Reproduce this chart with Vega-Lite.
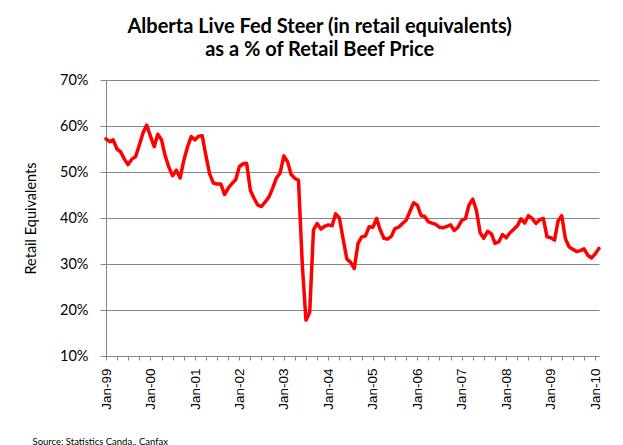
{
  "$schema": "https://vega.github.io/schema/vega-lite/v6.json",
  "autosize": "none",
  "width": 493,
  "height": 276,
  "padding": {"left": 106, "top": 80, "right": 24, "bottom": 89},
  "background": "white",
  "title": {
    "text": ["Alberta Live Fed Steer (in retail equivalents)", "as a % of Retail Beef Price"],
    "font": "Lato",
    "fontSize": 20,
    "fontWeight": "bold",
    "color": "#000000",
    "anchor": "middle",
    "frame": "bounds",
    "lineHeight": 23,
    "offset": 12,
    "dx": 7
  },
  "data": {
    "values": [
      {"date": "1999-01-01", "pct": 57.2}, {"date": "1999-02-01", "pct": 56.6}, {"date": "1999-03-01", "pct": 57.0},
      {"date": "1999-04-01", "pct": 55.0}, {"date": "1999-05-01", "pct": 54.4}, {"date": "1999-06-01", "pct": 52.8},
      {"date": "1999-07-01", "pct": 51.6}, {"date": "1999-08-01", "pct": 52.8}, {"date": "1999-09-01", "pct": 53.3},
      {"date": "1999-10-01", "pct": 55.8}, {"date": "1999-11-01", "pct": 58.5}, {"date": "1999-12-01", "pct": 60.2},
      {"date": "2000-01-01", "pct": 57.8}, {"date": "2000-02-01", "pct": 55.5}, {"date": "2000-03-01", "pct": 58.2},
      {"date": "2000-04-01", "pct": 57.0}, {"date": "2000-05-01", "pct": 53.5}, {"date": "2000-06-01", "pct": 51.0},
      {"date": "2000-07-01", "pct": 49.2}, {"date": "2000-08-01", "pct": 50.4}, {"date": "2000-09-01", "pct": 48.7},
      {"date": "2000-10-01", "pct": 52.5}, {"date": "2000-11-01", "pct": 55.5}, {"date": "2000-12-01", "pct": 57.7},
      {"date": "2001-01-01", "pct": 57.0}, {"date": "2001-02-01", "pct": 57.8}, {"date": "2001-03-01", "pct": 57.9},
      {"date": "2001-04-01", "pct": 53.5}, {"date": "2001-05-01", "pct": 49.6}, {"date": "2001-06-01", "pct": 47.6},
      {"date": "2001-07-01", "pct": 47.4}, {"date": "2001-08-01", "pct": 47.4}, {"date": "2001-09-01", "pct": 45.1},
      {"date": "2001-10-01", "pct": 46.5}, {"date": "2001-11-01", "pct": 47.5}, {"date": "2001-12-01", "pct": 48.3},
      {"date": "2002-01-01", "pct": 51.2}, {"date": "2002-02-01", "pct": 51.8}, {"date": "2002-03-01", "pct": 51.9},
      {"date": "2002-04-01", "pct": 46.0}, {"date": "2002-05-01", "pct": 44.3}, {"date": "2002-06-01", "pct": 42.8},
      {"date": "2002-07-01", "pct": 42.5}, {"date": "2002-08-01", "pct": 43.5}, {"date": "2002-09-01", "pct": 44.6},
      {"date": "2002-10-01", "pct": 46.5}, {"date": "2002-11-01", "pct": 48.7}, {"date": "2002-12-01", "pct": 49.8},
      {"date": "2003-01-01", "pct": 53.5}, {"date": "2003-02-01", "pct": 52.2}, {"date": "2003-03-01", "pct": 49.5},
      {"date": "2003-04-01", "pct": 48.6}, {"date": "2003-05-01", "pct": 48.2}, {"date": "2003-06-01", "pct": 30.0},
      {"date": "2003-07-01", "pct": 17.8}, {"date": "2003-08-01", "pct": 19.5}, {"date": "2003-09-01", "pct": 37.4},
      {"date": "2003-10-01", "pct": 38.8}, {"date": "2003-11-01", "pct": 37.6}, {"date": "2003-12-01", "pct": 38.2},
      {"date": "2004-01-01", "pct": 38.5}, {"date": "2004-02-01", "pct": 38.3}, {"date": "2004-03-01", "pct": 40.9},
      {"date": "2004-04-01", "pct": 40.0}, {"date": "2004-05-01", "pct": 35.5}, {"date": "2004-06-01", "pct": 31.1},
      {"date": "2004-07-01", "pct": 30.4}, {"date": "2004-08-01", "pct": 29.0}, {"date": "2004-09-01", "pct": 34.5},
      {"date": "2004-10-01", "pct": 35.9}, {"date": "2004-11-01", "pct": 36.1}, {"date": "2004-12-01", "pct": 38.1},
      {"date": "2005-01-01", "pct": 38.0}, {"date": "2005-02-01", "pct": 39.9}, {"date": "2005-03-01", "pct": 37.5},
      {"date": "2005-04-01", "pct": 35.6}, {"date": "2005-05-01", "pct": 35.4}, {"date": "2005-06-01", "pct": 36.0},
      {"date": "2005-07-01", "pct": 37.7}, {"date": "2005-08-01", "pct": 38.0}, {"date": "2005-09-01", "pct": 38.8},
      {"date": "2005-10-01", "pct": 39.5}, {"date": "2005-11-01", "pct": 41.4}, {"date": "2005-12-01", "pct": 43.3},
      {"date": "2006-01-01", "pct": 42.8}, {"date": "2006-02-01", "pct": 40.5}, {"date": "2006-03-01", "pct": 40.4},
      {"date": "2006-04-01", "pct": 39.2}, {"date": "2006-05-01", "pct": 38.9}, {"date": "2006-06-01", "pct": 38.6},
      {"date": "2006-07-01", "pct": 38.0}, {"date": "2006-08-01", "pct": 37.9}, {"date": "2006-09-01", "pct": 38.2},
      {"date": "2006-10-01", "pct": 38.5}, {"date": "2006-11-01", "pct": 37.3}, {"date": "2006-12-01", "pct": 38.0},
      {"date": "2007-01-01", "pct": 39.5}, {"date": "2007-02-01", "pct": 39.9}, {"date": "2007-03-01", "pct": 42.8},
      {"date": "2007-04-01", "pct": 44.1}, {"date": "2007-05-01", "pct": 41.7}, {"date": "2007-06-01", "pct": 36.8},
      {"date": "2007-07-01", "pct": 35.6}, {"date": "2007-08-01", "pct": 37.1}, {"date": "2007-09-01", "pct": 36.6},
      {"date": "2007-10-01", "pct": 34.5}, {"date": "2007-11-01", "pct": 34.8}, {"date": "2007-12-01", "pct": 36.4},
      {"date": "2008-01-01", "pct": 35.7}, {"date": "2008-02-01", "pct": 36.8}, {"date": "2008-03-01", "pct": 37.5},
      {"date": "2008-04-01", "pct": 38.3}, {"date": "2008-05-01", "pct": 39.8}, {"date": "2008-06-01", "pct": 38.9},
      {"date": "2008-07-01", "pct": 40.5}, {"date": "2008-08-01", "pct": 39.9}, {"date": "2008-09-01", "pct": 38.8},
      {"date": "2008-10-01", "pct": 39.6}, {"date": "2008-11-01", "pct": 39.9}, {"date": "2008-12-01", "pct": 35.9},
      {"date": "2009-01-01", "pct": 35.7}, {"date": "2009-02-01", "pct": 35.2}, {"date": "2009-03-01", "pct": 39.3},
      {"date": "2009-04-01", "pct": 40.5}, {"date": "2009-05-01", "pct": 35.5}, {"date": "2009-06-01", "pct": 33.7},
      {"date": "2009-07-01", "pct": 33.2}, {"date": "2009-08-01", "pct": 32.7}, {"date": "2009-09-01", "pct": 32.9},
      {"date": "2009-10-01", "pct": 33.3}, {"date": "2009-11-01", "pct": 31.9}, {"date": "2009-12-01", "pct": 31.3},
      {"date": "2010-01-01", "pct": 32.2}, {"date": "2010-02-01", "pct": 33.4}
    ]
  },
  "mark": {"type": "line", "color": "#ff0000", "strokeWidth": 3.5, "strokeJoin": "round", "strokeCap": "round"},
  "encoding": {
    "x": {
      "field": "date",
      "type": "temporal",
      "scale": {"type": "utc", "nice": false},
      "axis": {
        "title": "Source: Statistics Canda,, Canfax",
        "titleFont": "Lato",
        "titleFontSize": 9.5,
        "titleFontWeight": "normal",
        "titleColor": "#000000",
        "titleAlign": "left",
        "titleBaseline": "alphabetic",
        "titleAnchor": "start",
        "titleX": -74,
        "titleY": 88,
        "tickCount": {"interval": "month", "step": 3},
        "labelExpr": "utcmonth(datum.value) == 0 ? utcFormat(datum.value, '%b-%y') : ''",
        "labelAngle": 270,
        "labelAlign": "right",
        "labelBaseline": "middle",
        "labelFont": "Liberation Sans",
        "labelFontSize": 13.5,
        "labelColor": "#000000",
        "labelPadding": 8,
        "labelOverlap": false,
        "labelFlush": false,
        "labelBound": false,
        "tickSize": 4,
        "tickColor": "#868686",
        "domainColor": "#868686",
        "grid": false
      }
    },
    "y": {
      "field": "pct",
      "type": "quantitative",
      "scale": {"domain": [10, 70], "nice": false, "zero": false},
      "axis": {
        "title": "Retail Equivalents",
        "titleFont": "Lato",
        "titleFontSize": 14.5,
        "titleFontWeight": "normal",
        "titleColor": "#000000",
        "titlePadding": 21,
        "values": [10, 20, 30, 40, 50, 60, 70],
        "labelExpr": "datum.value + '%'",
        "labelFont": "Lato",
        "labelFontSize": 14.5,
        "labelColor": "#000000",
        "labelPadding": 12,
        "tickSize": 6,
        "tickColor": "#868686",
        "domainColor": "#868686",
        "gridColor": "#868686",
        "gridWidth": 1
      }
    }
  },
  "config": {
    "view": {"stroke": null}
  }
}
